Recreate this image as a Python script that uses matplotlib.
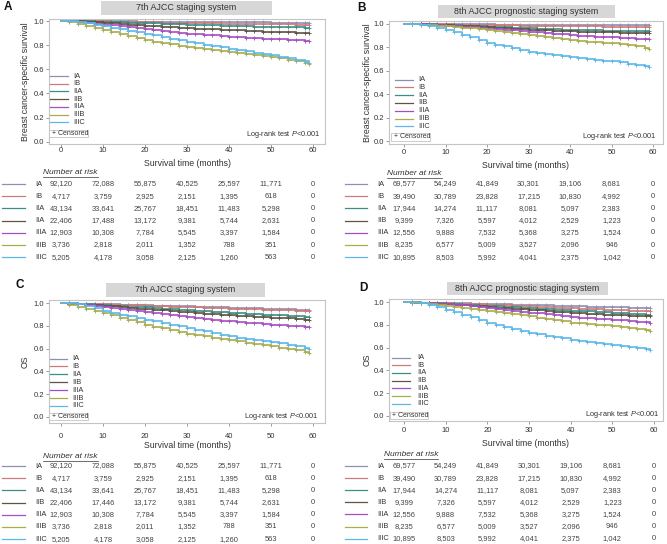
import matplotlib.pyplot as plt
from matplotlib import transforms
from matplotlib.lines import Line2D
from matplotlib.patches import Rectangle

plt.rcParams['font.family'] = ['Liberation Sans', 'DejaVu Sans']
plt.rcParams['mathtext.fontset'] = 'custom'
plt.rcParams['mathtext.rm'] = 'Liberation Sans'
plt.rcParams['mathtext.it'] = 'Liberation Sans:italic'

W, H = 667, 544

# Data
stages = ['IA', 'IB', 'IIA', 'IIB', 'IIIA', 'IIIB', 'IIIC']
colors = ['#8f8fb5', '#cf7a7a', '#3b8f86', '#5e5344', '#a64fc2', '#a9ad4a', '#5cb8e8']
months = [0, 2, 4, 6, 8, 10, 12, 14, 16, 18, 20, 22, 24, 26, 28, 30,
          32, 34, 36, 38, 40, 42, 44, 46, 48, 50, 52, 54, 56, 58, 59]
risk_times = [0, 10, 20, 30, 40, 50, 60]

# A: breast cancer-specific survival, 7th AJCC
bcss_7th = [
    [1.0, 1.0, .999, .999, .998, .998, .997, .997, .996, .995, .995, .994, .994, .993, .993, .992,
     .992, .991, .991, .990, .990, .989, .989, .988, .988, .987, .987, .986, .986, .985, .985],
    [1.0, .999, .998, .997, .997, .996, .995, .993, .992, .991, .990, .989, .987, .986, .985, .984,
     .983, .982, .980, .979, .978, .977, .976, .975, .974, .973, .972, .972, .971, .970, .970],
    [1.0, .999, .998, .997, .995, .993, .991, .989, .987, .984, .982, .980, .977, .975, .972, .970,
     .968, .966, .964, .962, .960, .958, .956, .954, .952, .950, .949, .948, .947, .946, .945],
    [1.0, .999, .997, .994, .990, .985, .980, .976, .971, .967, .962, .958, .953, .949, .944, .940,
     .937, .934, .931, .928, .925, .922, .919, .916, .913, .910, .908, .906, .904, .902, .900],
    [1.0, .998, .993, .987, .979, .970, .963, .956, .949, .942, .935, .927, .919, .911, .903, .895,
     .890, .885, .880, .875, .870, .866, .862, .858, .854, .850, .847, .844, .841, .838, .835],
    [1.0, .990, .972, .956, .940, .925, .907, .890, .873, .856, .840, .829, .818, .807, .797, .786,
     .778, .770, .762, .754, .745, .737, .729, .721, .713, .705, .693, .680, .667, .653, .640],
    [1.0, 1.0, .995, .985, .970, .955, .943, .931, .919, .907, .895, .881, .867, .853, .839, .825,
     .814, .803, .792, .781, .770, .759, .748, .737, .726, .715, .703, .691, .679, .667, .655],
]

# B: breast cancer-specific survival, 8th AJCC prognostic
bcss_8th = [
    [1.0, 1.0, .999, .999, .999, .998, .998, .997, .997, .996, .996, .995, .995, .994, .994, .993,
     .993, .993, .992, .992, .992, .991, .991, .991, .991, .990, .990, .990, .990, .990, .990],
    [1.0, 1.0, .999, .998, .997, .996, .995, .994, .993, .992, .991, .990, .989, .988, .987, .986,
     .985, .984, .983, .982, .981, .980, .979, .979, .978, .977, .977, .976, .976, .975, .975],
    [1.0, .999, .998, .996, .994, .992, .989, .986, .983, .980, .977, .974, .971, .968, .965, .962,
     .960, .957, .955, .952, .950, .948, .946, .945, .944, .943, .942, .941, .941, .940, .940],
    [1.0, .999, .997, .995, .992, .989, .986, .983, .979, .975, .971, .967, .963, .959, .955, .951,
     .948, .945, .942, .939, .936, .934, .932, .930, .929, .928, .927, .926, .926, .925, .925],
    [1.0, .999, .996, .992, .988, .984, .980, .976, .971, .966, .960, .955, .950, .945, .940, .935,
     .929, .923, .917, .911, .905, .901, .897, .893, .889, .885, .882, .879, .876, .873, .870],
    [1.0, .998, .995, .991, .986, .980, .975, .969, .963, .957, .950, .942, .934, .926, .918, .910,
     .900, .890, .880, .870, .860, .855, .850, .845, .840, .835, .826, .817, .808, .799, .790],
    [1.0, 1.0, .993, .982, .967, .950, .930, .910, .890, .865, .840, .824, .808, .792, .776, .760,
     .752, .744, .736, .728, .720, .712, .704, .696, .688, .680, .671, .662, .653, .644, .635],
]

# C: overall survival, 7th AJCC
os_7th = [
    [1.0, .999, .998, .996, .994, .992, .990, .988, .986, .984, .982, .980, .978, .976, .974, .972,
     .970, .968, .966, .964, .962, .960, .958, .956, .954, .952, .950, .947, .944, .941, .940],
    [1.0, .999, .997, .995, .993, .990, .988, .986, .983, .981, .978, .976, .973, .971, .968, .966,
     .963, .961, .958, .956, .953, .951, .948, .946, .943, .941, .939, .937, .934, .931, .930],
    [1.0, .998, .995, .991, .987, .983, .979, .975, .971, .967, .963, .959, .954, .949, .944, .940,
     .935, .931, .926, .922, .918, .913, .909, .905, .901, .897, .894, .890, .886, .882, .880],
    [1.0, .998, .994, .989, .983, .977, .972, .966, .960, .954, .948, .943, .937, .931, .925, .919,
     .914, .909, .904, .899, .894, .890, .886, .882, .878, .874, .870, .866, .862, .856, .850],
    [1.0, .997, .991, .985, .978, .970, .961, .951, .941, .931, .920, .912, .904, .896, .888, .880,
     .872, .864, .856, .848, .840, .834, .828, .822, .816, .810, .806, .802, .798, .794, .790],
    [1.0, .985, .965, .950, .933, .915, .894, .873, .852, .831, .810, .794, .778, .762, .746, .730,
     .719, .708, .697, .686, .675, .664, .653, .642, .631, .620, .609, .598, .587, .573, .565],
    [1.0, .999, .992, .977, .955, .930, .914, .899, .884, .869, .855, .840, .825, .811, .797, .783,
     .768, .753, .738, .723, .708, .698, .688, .678, .668, .658, .647, .636, .625, .610, .600],
]

# D: overall survival, 8th AJCC prognostic
os_8th = [
    [1.0, .999, .998, .997, .995, .994, .992, .991, .989, .988, .986, .984, .982, .980, .978, .976,
     .974, .972, .970, .968, .966, .964, .962, .960, .958, .956, .955, .954, .952, .951, .950],
    [1.0, .999, .997, .995, .993, .991, .988, .986, .983, .981, .978, .975, .972, .969, .966, .963,
     .960, .957, .954, .951, .948, .945, .942, .939, .936, .933, .930, .927, .924, .921, .920],
    [1.0, .998, .996, .993, .990, .987, .983, .979, .975, .971, .967, .963, .959, .955, .951, .947,
     .943, .939, .935, .931, .927, .923, .919, .915, .911, .907, .903, .899, .896, .892, .890],
    [1.0, .998, .995, .991, .987, .983, .978, .973, .968, .963, .958, .953, .948, .943, .938, .933,
     .928, .923, .918, .913, .908, .904, .900, .896, .892, .888, .885, .882, .879, .877, .875],
    [1.0, .999, .996, .992, .988, .984, .978, .972, .966, .960, .950, .942, .934, .926, .918, .910,
     .902, .894, .886, .878, .870, .865, .860, .855, .850, .845, .840, .835, .830, .824, .820],
    [1.0, .998, .993, .987, .979, .970, .961, .952, .943, .934, .925, .915, .905, .895, .885, .875,
     .864, .853, .842, .831, .820, .814, .808, .802, .796, .790, .782, .774, .766, .758, .750],
    [1.0, 1.0, .992, .978, .958, .935, .912, .889, .866, .843, .820, .802, .784, .766, .748, .730,
     .718, .706, .694, .682, .670, .661, .652, .644, .636, .627, .617, .607, .597, .587, .580],
]

# Number at risk
risk_a = [
    [92120, 72088, 55875, 40525, 25597, 11771, 0],
    [4717, 3759, 2925, 2151, 1395, 618, 0],
    [43134, 33641, 25767, 18451, 11483, 5298, 0],
    [22406, 17488, 13172, 9381, 5744, 2631, 0],
    [12903, 10308, 7784, 5545, 3397, 1584, 0],
    [3736, 2818, 2011, 1352, 788, 351, 0],
    [5205, 4178, 3058, 2125, 1260, 563, 0],
]
risk_c = [
    [92120, 72088, 55875, 40525, 25597, 11771, 0],
    [4717, 3759, 2925, 2151, 1395, 618, 0],
    [43134, 33641, 25767, 18451, 11483, 5298, 0],
    [22406, 17446, 13172, 9381, 5744, 2631, 0],
    [12903, 10308, 7784, 5545, 3397, 1584, 0],
    [3736, 2818, 2011, 1352, 788, 351, 0],
    [5205, 4178, 3058, 2125, 1260, 563, 0],
]
risk_8th = [
    [69577, 54249, 41849, 30301, 19106, 8681, 0],
    [39490, 30789, 23828, 17215, 10830, 4992, 0],
    [17944, 14274, 11117, 8081, 5097, 2383, 0],
    [9399, 7326, 5597, 4012, 2529, 1223, 0],
    [12556, 9888, 7532, 5368, 3275, 1524, 0],
    [8235, 6577, 5009, 3527, 2096, 946, 0],
    [10895, 8503, 5992, 4041, 2375, 1042, 0],
]
table_labels_a = ['IA', 'IB', 'IIA', 'IIA', 'IIIA', 'IIIB', 'IIIC']

panels = [
    dict(letter='A', letter_xy=(8, 7), title='7th AJCC staging system', tbox=(101, 1, 272, 15),
         box=(49, 19, 325, 144), x0=61, x60=313, y1=21, y0=141.7, xpad=0.0,
         ylabel='Breast cancer-specific survival', ylab_x=25,
         surv=bcss_7th, risk=risk_a, tlabels=table_labels_a,
         leg=(50, 68, 73, 76, 7.7), cens=(49, 130, 88, 137.5), logrank=(320, 134),
         xlab_y=163, nar=(43, 172), rows=(184, 12.2), samp=(2, 25), lab_x=35),
    dict(letter='B', letter_xy=(362, 8), title='8th AJCC prognostic staging system', tbox=(438, 5, 615, 18),
         box=(389, 21, 663, 144), x0=404, x60=653, y1=24, y0=141, xpad=1.0,
         ylabel='Breast cancer-specific survival', ylab_x=368,
         surv=bcss_8th, risk=risk_8th, tlabels=stages,
         leg=(395, 413, 418, 79.5, 7.8), cens=(391, 133, 430, 141), logrank=(656, 137),
         xlab_y=165, nar=(387, 173.5), rows=(184, 12.2), samp=(345, 367), lab_x=377),
    dict(letter='C', letter_xy=(20, 285), title='7th AJCC staging system', tbox=(106, 283, 265, 297),
         box=(49, 300, 325, 423), x0=61, x60=313, y1=303.3, y0=416.7, xpad=4.5,
         ylabel='OS', ylab_x=25,
         surv=os_7th, risk=risk_c, tlabels=stages,
         leg=(50, 67, 72, 358.5, 7.9), cens=(49, 412.5, 88, 420), logrank=(318, 416),
         xlab_y=446, nar=(43, 456.5), rows=(466, 12.2), samp=(2, 25), lab_x=35),
    dict(letter='D', letter_xy=(363, 288), title='8th AJCC prognostic staging system', tbox=(447, 282, 608, 295),
         box=(389, 299, 663, 421), x0=404, x60=654, y1=302.3, y0=415.7, xpad=2.0,
         ylabel='OS', ylab_x=367,
         surv=os_8th, risk=risk_8th, tlabels=stages,
         leg=(392, 410, 417, 357.5, 7.7), cens=(390, 411.5, 428, 419), logrank=(659, 415),
         xlab_y=443.5, nar=(384, 454), rows=(466, 12.1), samp=(345, 367), lab_x=377),
]


def fx(x):
    return x / W


def fy(y):
    return 1 - y / H


fig = plt.figure(figsize=(W / 100, H / 100), dpi=100)
fig.patch.set_facecolor('white')
txt = '#333333'
underlines = []

for p in panels:
    l, t, r, b = p['box']
    ax = fig.add_axes([fx(l), fy(b), (r - l) / W, (b - t) / H])
    kx = (p['x60'] - p['x0']) / 60.0
    ky = (p['y0'] - p['y1'])
    ax.set_xlim((l - p['x0']) / kx, (r - p['x0']) / kx)
    ax.set_ylim(-(b - p['y0']) / ky, 1 + (p['y1'] - t) / ky)

    for s, c in zip(p['surv'], colors):
        ax.step(months, s, where='post', color=c, lw=1.2)
        ax.plot(months[1:], s[1:], '+', color=c, ms=3.5, mew=0.65)

    for sp in ax.spines.values():
        sp.set_color('#c4c4c4')
        sp.set_linewidth(0.8)
    ax.set_xticks(risk_times)
    ax.set_yticks([0, 0.2, 0.4, 0.6, 0.8, 1.0])
    ax.set_yticklabels(['0.0', '0.2', '0.4', '0.6', '0.8', '1.0'])
    ax.tick_params(axis='both', colors='#8a8a8a', labelcolor=txt, labelsize=5.5,
                   length=2.5, width=0.6)
    ax.tick_params(axis='x', pad=p['xpad'])
    ax.tick_params(axis='y', pad=1.0)
    ax.set_xlabel('Survival time (months)', fontsize=6.3, color=txt)
    ax.xaxis.set_label_coords(0.5, -(p['xlab_y'] - b) / (b - t), transform=ax.transAxes)
    ax.xaxis.label.set_va('center')
    ax.set_ylabel(p['ylabel'], fontsize=6.3, color=txt)
    ax.yaxis.set_label_coords((p['ylab_x'] - l) / (r - l), 0.5)
    ax.yaxis.label.set_va('center')

    # title box
    x1, y1, x2, y2 = p['tbox']
    fig.patches.append(Rectangle((fx(x1), fy(y2)), (x2 - x1) / W, (y2 - y1) / H,
                                 transform=fig.transFigure, facecolor='#d7d7d7', edgecolor='none'))
    fig.text(fx((x1 + x2) / 2), fy((y1 + y2) / 2), p['title'], ha='center', va='center',
             fontsize=6.4, color=txt)
    fig.text(fx(p['letter_xy'][0]), fy(p['letter_xy'][1]), p['letter'], ha='center', va='center',
             fontsize=8.5, fontweight='bold', color='#111111')

    # in-plot legend
    lx1, lx2, ltx, ly, ldy = p['leg']
    for i, (name, c) in enumerate(zip(stages, colors)):
        yy = fy(ly + i * ldy)
        fig.lines.append(Line2D([fx(lx1), fx(lx2)], [yy, yy], transform=fig.transFigure,
                                color=c, lw=0.9))
        fig.text(fx(ltx), yy, name, ha='left', va='center', fontsize=5.4, color=txt)
    cx1, cy1, cx2, cy2 = p['cens']
    fig.patches.append(Rectangle((fx(cx1), fy(cy2)), (cx2 - cx1) / W, (cy2 - cy1) / H,
                                 transform=fig.transFigure, facecolor='white',
                                 edgecolor='#c4c4c4', lw=0.6))
    fig.text(fx(cx1 + 2.5), fy((cy1 + cy2) / 2), '+ Censored', ha='left', va='center',
             fontsize=5.0, color=txt)
    fig.text(fx(p['logrank'][0]), fy(p['logrank'][1]), 'Log-rank test $P$<0.001',
             ha='right', va='center', fontsize=5.3, color=txt)

    # number at risk table
    nar = fig.text(fx(p['nar'][0]), fy(p['nar'][1]), 'Number at risk', ha='left', va='center',
                   fontsize=6.0, style='italic', color=txt)
    underlines.append((nar, p['nar'][1] + 4.5))
    tr = transforms.blended_transform_factory(ax.transData, fig.transFigure)
    r0, rdy = p['rows']
    for i, (lab, c, vals) in enumerate(zip(p['tlabels'], colors, p['risk'])):
        yy = fy(r0 + i * rdy)
        fig.lines.append(Line2D([fx(p['samp'][0]), fx(p['samp'][1])], [yy, yy],
                                transform=fig.transFigure, color=c, lw=0.9))
        fig.text(fx(p['lab_x']), yy, lab, ha='left', va='center', fontsize=5.4, color=txt)
        for tm, v in zip(risk_times, vals):
            fig.text(tm, yy, f'{v:,}', transform=tr, ha='center', va='center',
                     fontsize=5.4, color='#444444')

fig.canvas.draw()
renderer = fig.canvas.get_renderer()
for t, yline in underlines:
    bb = t.get_window_extent(renderer)
    yy = fy(yline)
    fig.lines.append(Line2D([bb.x0 / fig.bbox.width, bb.x1 / fig.bbox.width], [yy, yy],
                            transform=fig.transFigure, color=txt, lw=0.5))

fig.savefig('out.png', dpi=100)
